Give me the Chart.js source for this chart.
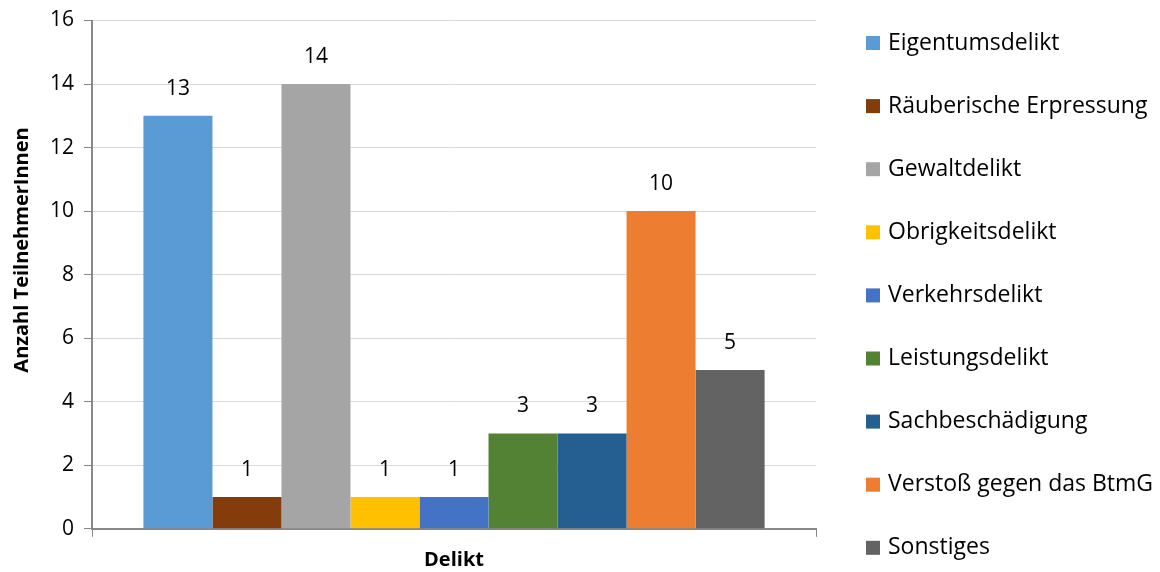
<!DOCTYPE html>
<html>
<head>
<meta charset="utf-8">
<script src="https://cdn.jsdelivr.net/npm/chart.js@4"></script>
<style>
    html, body { margin: 0; padding: 0; background: #fff; }
    #wrap { width: 1160px; height: 572px; }
</style>
</head>
<body>
<div id="wrap"><canvas id="chart"></canvas></div>
<script>
    var categories = ['Eigentumsdelikt', 'Räuberische Erpressung', 'Gewaltdelikt', 'Obrigkeitsdelikt',
        'Verkehrsdelikt', 'Leistungsdelikt', 'Sachbeschädigung', 'Verstoß gegen das BtmG', 'Sonstiges'];
    var counts = [13, 1, 14, 1, 1, 3, 3, 10, 5];
    var colors = ['#5B9BD5', '#843C0C', '#A5A5A5', '#FFC000', '#4472C4', '#548235', '#255E91', '#ED7D31', '#636363'];
    var yTicks = [0, 2, 4, 6, 8, 10, 12, 14, 16];

    var FONT = '"Open Sans", sans-serif';

    // value above each bar
    var valueLabels = {
        id: 'valueLabels',
        afterDatasetsDraw: function(chart) {
            var ctx = chart.ctx;
            ctx.save();
            ctx.font = '21px ' + FONT;
            ctx.fillStyle = '#000';
            ctx.textAlign = 'center';
            ctx.textBaseline = 'middle';
            chart.data.datasets.forEach(function(ds, i) {
                var meta = chart.getDatasetMeta(i);
                meta.data.forEach(function(bar, j) {
                    ctx.fillText(String(ds.data[j]), bar.x, bar.y - 27);
                });
            });
            ctx.restore();
        }
    };

    // legend on the right + rotated y title (Excel puts it a bit above centre)
    var sideLegend = {
        id: 'sideLegend',
        afterDraw: function(chart) {
            var ctx = chart.ctx;
            ctx.save();
            ctx.font = '23px ' + FONT;
            ctx.textBaseline = 'middle';
            ctx.textAlign = 'left';
            chart.data.datasets.forEach(function(ds, i) {
                var y = 43 + i * 63.1;
                ctx.fillStyle = ds.backgroundColor;
                ctx.fillRect(866, y - 7, 14, 14);
                ctx.fillStyle = '#000';
                ctx.fillText(ds.label, 888, y);
            });
            ctx.translate(22, 250);
            ctx.rotate(-Math.PI / 2);
            ctx.textAlign = 'center';
            ctx.font = 'bold 20px ' + FONT;
            ctx.fillText('Anzahl TeilnehmerInnen', 0, 0);
            ctx.restore();
        }
    };

    var datasets = categories.map(function(name, i) {
        return {
            label: name,
            data: [counts[i]],
            backgroundColor: colors[i],
            borderWidth: 0,
            barPercentage: 1,
            categoryPercentage: 0.858
        };
    });

    new Chart(document.getElementById('chart'), {
        type: 'bar',
        data: { labels: [''], datasets: datasets },
        plugins: [valueLabels, sideLegend],
        options: {
            responsive: true,
            maintainAspectRatio: false,
            animation: false,
            layout: { padding: { top: 0, right: 344, left: 40, bottom: 0 } },
            plugins: {
                legend: { display: false },
                tooltip: { enabled: false }
            },
            scales: {
                x: {
                    grid: { drawOnChartArea: false, color: '#888', tickLength: 8, lineWidth: 1 },
                    border: { color: '#888', width: 2 },
                    ticks: { display: true, padding: 0, font: { size: 1 } },
                    title: {
                        display: true, text: 'Delikt', color: '#000',
                        font: { family: FONT, size: 20, weight: 'bold' }, padding: { top: 10, bottom: 0 }
                    }
                },
                y: {
                    min: 0, max: 16,
                    afterBuildTicks: function(axis) {
                        axis.ticks = yTicks.map(function(v) { return { value: v }; });
                    },
                    grid: { color: '#d9d9d9', tickColor: '#888', tickLength: 8 },
                    border: { color: '#888', width: 2 },
                    ticks: { color: '#000', padding: 10, font: { family: FONT, size: 21, lineHeight: 1 } }
                }
            }
        }
    });
</script>
</body>
</html>
